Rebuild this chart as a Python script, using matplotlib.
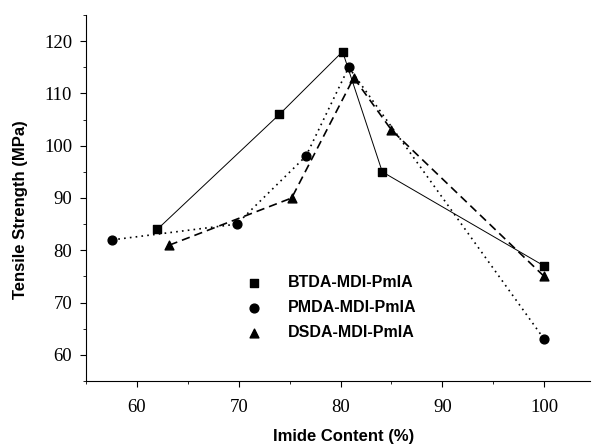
import matplotlib
matplotlib.use("Agg")
import matplotlib.pyplot as plt
from matplotlib.ticker import MultipleLocator

btda_x = [62, 74, 80.2, 84.1, 100]
btda_y = [84, 106, 118, 95, 77]
pmda_x = [57.6, 69.8, 76.6, 80.8, 100]
pmda_y = [82, 85, 98, 115, 63]
dsda_x = [63.2, 75.2, 81.3, 85.0, 100]
dsda_y = [81, 90, 113, 103, 75]
labels = ["BTDA-MDI-PmIA", "PMDA-MDI-PmIA", "DSDA-MDI-PmIA"]

fig = plt.figure(figsize=(5.92, 4.47), dpi=100)
ax = fig.add_axes([86/592, 66/447, 504/592, 366/447])

ax.plot(btda_x, btda_y, color='black', lw=0.7, ls='-')
ax.plot(pmda_x, pmda_y, color='black', lw=1.2, ls=(0, (1, 2.5)))
ax.plot(dsda_x, dsda_y, color='black', lw=1.2, ls=(0, (5, 3)))
m1 = ax.scatter(btda_x, btda_y, marker='s', s=28, color='black', zorder=3)
m2 = ax.scatter(pmda_x, pmda_y, marker='o', s=40, color='black', zorder=3)
m3 = ax.scatter(dsda_x, dsda_y, marker='^', s=40, color='black', zorder=3)

ax.set_xlim(55, 104.5)
ax.set_ylim(55, 125)
ax.xaxis.set_minor_locator(MultipleLocator(5))
ax.yaxis.set_minor_locator(MultipleLocator(5))
ax.set_xticks([60, 70, 80, 90, 100])
ax.set_yticks([60, 70, 80, 90, 100, 110, 120])
ax.tick_params(which='major', direction='out', length=4, width=0.8, labelsize=13.5)
ax.tick_params(axis='x', which='major', pad=9)
ax.tick_params(axis='y', which='major', pad=6)
ax.tick_params(which='minor', direction='out', length=2, width=0.6)
for lab in ax.get_xticklabels() + ax.get_yticklabels():
    lab.set_family(['Liberation Serif', 'DejaVu Serif'])
for s in ['top', 'right']:
    ax.spines[s].set_visible(False)
for s in ['left', 'bottom']:
    ax.spines[s].set_linewidth(0.8)

lab_font = dict(family=['Liberation Sans', 'DejaVu Sans'], weight='bold', size=12)
fig.text(344/592, 1 - 437/447, "Imide Content (%)", ha='center', va='center', **lab_font)
fig.text(21/592, 1 - 210/447, "Tensile Strength (MPa)", ha='center', va='center',
         rotation=90, **lab_font)

leg = ax.legend([m1, m2, m3], labels, loc='upper left', bbox_to_anchor=(0.274, 0.328),
                frameon=False, handletextpad=1.1, labelspacing=0.62,
                prop=dict(family=['Liberation Sans', 'DejaVu Sans'], weight='bold', size=11.5))

fig.savefig("out.png", dpi=100)
